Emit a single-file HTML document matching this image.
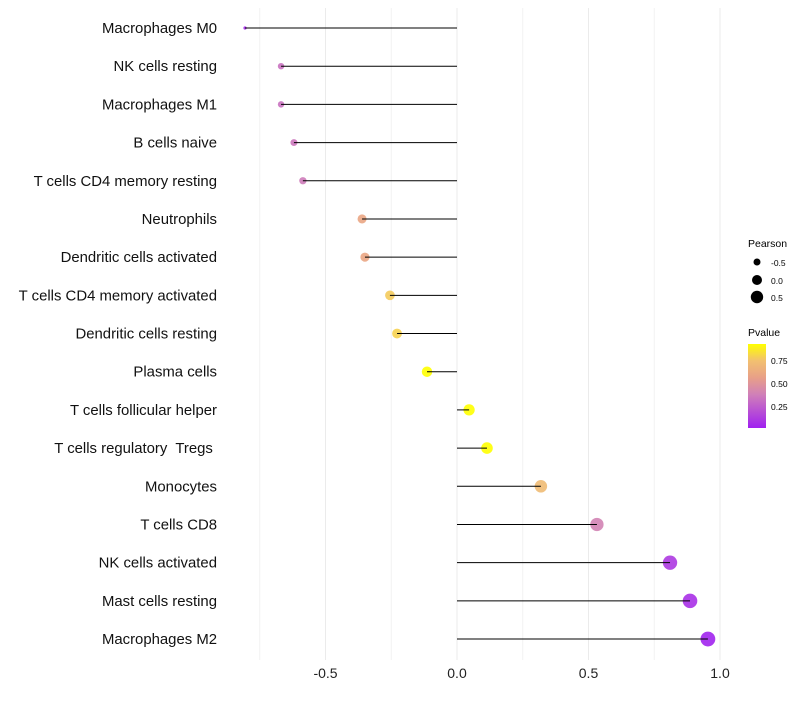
<!DOCTYPE html>
<html><head><meta charset="utf-8"><style>
body{margin:0;background:#fff;font-family:"Liberation Sans",sans-serif}
text{white-space:pre}
</style></head><body>
<svg id="chart" width="800" height="700" xmlns="http://www.w3.org/2000/svg" xml:space="preserve">
<defs><linearGradient id="pg" x1="0" y1="1" x2="0" y2="0">
<stop offset="0" stop-color="#A020F0"/><stop offset="0.4" stop-color="#D080B8"/><stop offset="0.6" stop-color="#E8A088"/><stop offset="0.8" stop-color="#F2C070"/><stop offset="1" stop-color="#FFFF00"/></linearGradient></defs>
<g id="grid"></g><g id="points"></g><g id="marks"></g><g id="labels"></g>
<g>
<text x="748" y="247" font-size="10.5">Pearson</text>
<circle cx="757" cy="262" r="3.5" fill="#000"/><text x="771" y="266" font-size="8.5">-0.5</text>
<circle cx="757" cy="280" r="5" fill="#000"/><text x="771" y="284" font-size="8.5">0.0</text>
<circle cx="757" cy="297" r="6.2" fill="#000"/><text x="771" y="301" font-size="8.5">0.5</text>
</g>
<g>
<text x="748" y="336" font-size="10.5">Pvalue</text>
<rect x="748" y="344" width="18" height="84" fill="url(#pg)"/>
<text x="771" y="364" font-size="8.5">0.75</text>
<text x="771" y="387" font-size="8.5">0.50</text>
<text x="771" y="410" font-size="8.5">0.25</text>
</g>
</svg>
<script>
const categories=["Macrophages M0","NK cells resting","Macrophages M1","B cells naive","T cells CD4 memory resting","Neutrophils","Dendritic cells activated","T cells CD4 memory activated","Dendritic cells resting","Plasma cells","T cells follicular helper","T cells regulatory  Tregs ","Monocytes","T cells CD8","NK cells activated","Mast cells resting","Macrophages M2"];
const pearson=[-0.806,-0.669,-0.669,-0.62,-0.586,-0.361,-0.35,-0.255,-0.228,-0.114,0.046,0.114,0.319,0.532,0.81,0.886,0.954];
const pvalue=[0.05,0.33,0.33,0.35,0.37,0.6,0.6,0.78,0.8,0.93,0.98,0.93,0.72,0.4,0.12,0.08,0.03];
const xTicks=[-0.5,0,0.5,1.0];
const xTickLabels=["-0.5","0.0","0.5","1.0"];
const minorTicks=[-0.75,-0.25,0.25,0.75];
const NS="http://www.w3.org/2000/svg";
const xs=v=>457+v*263;
const ys=i=>28+i*38.19;
function mk(t,a,p){const e=document.createElementNS(NS,t);for(const k in a)e.setAttribute(k,a[k]);p.appendChild(e);return e;}
const stops=[[0,[160,32,240]],[0.4,[208,128,184]],[0.6,[232,160,136]],[0.8,[242,192,112]],[1,[255,255,0]]];
function col(p){let t=Math.max(0,Math.min(1,(p-0.02)/0.91));for(let i=0;i<stops.length-1;i++){const[a,ca]=stops[i],[b,cb]=stops[i+1];if(t<=b){const u=(t-a)/(b-a);return `rgb(${ca.map((c,k)=>Math.round(c+(cb[k]-c)*u)).join(',')})`;}}return 'rgb(255,255,0)';}
const g=document.getElementById('grid'),m=document.getElementById('marks'),pt=document.getElementById('points'),l=document.getElementById('labels');
minorTicks.forEach(v=>{const e=mk('line',{x1:xs(v),x2:xs(v),y1:8,y2:660,stroke:'#f2f2f2','stroke-width':1},g);

});
xTicks.forEach((v,i)=>{const e=mk('line',{x1:xs(v),x2:xs(v),y1:8,y2:660,stroke:'#ebebeb','stroke-width':1},g);


const t=mk('text',{x:xs(v),y:678,'text-anchor':'middle','font-size':14,fill:'#222'},l);t.textContent=xTickLabels[i];

});
const mn=Math.min(...pearson),mx=Math.max(...pearson);
categories.forEach((c,i)=>{const y=ys(i);
const t=mk('text',{x:217,y:y+5,'text-anchor':'end','font-size':14.9,fill:'#111'},l);t.textContent=c;


const r=1.6+5.8*Math.sqrt((pearson[i]-mn)/(mx-mn));
const d=mk('circle',{cx:xs(pearson[i]),cy:y,r:r,fill:col(pvalue[i]),'fill-opacity':0.9},pt);


const s=mk('line',{x1:xs(0),x2:xs(pearson[i]),y1:y,y2:y,stroke:'#000','stroke-width':1},m);

});
</script>
</body></html>
